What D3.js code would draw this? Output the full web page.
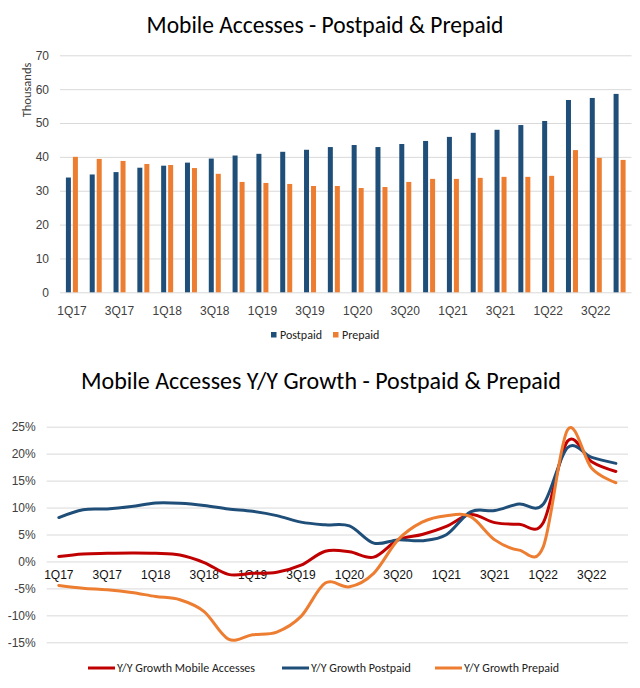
<!DOCTYPE html>
<html>
<head>
<meta charset="utf-8">
<script src="https://cdn.jsdelivr.net/npm/d3@7"></script>
<style>
  html, body { margin: 0; padding: 0; background: #fff; }
  svg { display: block; font-family: Carlito, Lato, "Open Sans", sans-serif; }
</style>
</head>
<body>
<svg id="chart" width="640" height="688"></svg>
<script>
// ---------- DATA ----------
const quarters = ["1Q17","2Q17","3Q17","4Q17","1Q18","2Q18","3Q18","4Q18","1Q19","2Q19","3Q19","4Q19",
                  "1Q20","2Q20","3Q20","4Q20","1Q21","2Q21","3Q21","4Q21","1Q22","2Q22","3Q22","4Q22"];
// thousands
const postpaid = [33.9,34.8,35.5,36.8,37.4,38.3,39.5,40.4,40.9,41.5,42.1,42.9,
                  43.5,42.9,43.8,44.7,45.9,47.1,48.0,49.4,50.6,56.8,57.4,58.6];
const prepaid  = [40.0,39.4,38.8,37.9,37.6,36.7,35.0,32.6,32.3,32.0,31.4,31.4,
                  30.8,31.1,32.6,33.5,33.5,33.8,34.1,34.1,34.4,42.0,39.7,39.1];
// Y/Y growth, percent
const growthTotal    = [0.9,1.4,1.5,1.55,1.5,1.2,-0.2,-2.4,-2.2,-2.0,-0.7,1.9,
                        1.8,0.8,4.0,5.0,6.5,8.7,7.2,6.9,7.2,22.3,18.5,16.7];
const growthPostpaid = [8.15,9.6,9.75,10.2,10.85,10.8,10.4,9.75,9.3,8.5,7.3,6.8,
                        6.6,3.4,4.0,3.85,4.95,9.2,9.45,10.65,10.6,21.1,19.3,18.2];
const growthPrepaid  = [-4.45,-4.95,-5.25,-5.75,-6.5,-7.1,-9.3,-14.4,-13.6,-13.1,-10.2,-4.0,
                        -4.7,-2.2,4.0,7.3,8.5,8.3,4.0,2.1,2.7,24.4,17.3,14.6];
const barTicks = [0,10,20,30,40,50,60,70];
const pctTicks = [-15,-10,-5,0,5,10,15,20,25];

const C_BLUE = "#1F4E79", C_ORANGE = "#ED7D31", C_RED = "#C00000";
const C_GRID = "#D9D9D9", C_TEXT = "#404040";
const FS = 12;

const svg = d3.select("#chart");

// ---------- TOP: bar chart ----------
const pTop = { left: 60, right: 631.5, top: 55.3, bottom: 292.3 };
const xb = d3.scaleBand().domain(quarters).range([pTop.left, pTop.right]);
const yb = d3.scaleLinear().domain([0, 70]).range([pTop.bottom, pTop.top]);

svg.append("text").attr("x", 325).attr("y", 33).attr("text-anchor", "middle")
  .attr("font-size", 23.5).attr("fill", "#000").text("Mobile Accesses - Postpaid & Prepaid");

const gyb = svg.append("g").attr("transform", `translate(${pTop.left},0)`)
  .call(d3.axisLeft(yb).tickValues(barTicks).tickSize(-(pTop.right - pTop.left)).tickPadding(11));
gyb.select(".domain").remove();
gyb.selectAll(".tick line").attr("stroke", C_GRID);
gyb.selectAll(".tick text").attr("font-size", FS).attr("fill", C_TEXT).attr("font-family", null);

svg.append("text").attr("transform", "translate(31,90) rotate(-90)").attr("text-anchor", "middle")
  .attr("font-size", 12.5).attr("fill", C_TEXT).text("Thousands");

const gxb = svg.append("g").attr("transform", `translate(0,${pTop.bottom})`)
  .call(d3.axisBottom(xb).tickValues(quarters.filter((d, i) => i % 2 === 0)).tickSize(0).tickPadding(14));
gxb.select(".domain").remove();
gxb.selectAll(".tick text").attr("font-size", FS).attr("fill", C_TEXT).attr("font-family", null);

const bw = 5;
svg.append("g").selectAll("rect").data(quarters).join("rect")
  .attr("x", d => xb(d) + xb.bandwidth() / 2 - 6).attr("width", bw)
  .attr("y", (d, i) => yb(postpaid[i])).attr("height", (d, i) => yb(0) - yb(postpaid[i]))
  .attr("fill", C_BLUE);
svg.append("g").selectAll("rect").data(quarters).join("rect")
  .attr("x", d => xb(d) + xb.bandwidth() / 2 + 1).attr("width", bw)
  .attr("y", (d, i) => yb(prepaid[i])).attr("height", (d, i) => yb(0) - yb(prepaid[i]))
  .attr("fill", C_ORANGE);

const legTop = [{ name: "Postpaid", color: C_BLUE, x: 271 }, { name: "Prepaid", color: C_ORANGE, x: 333 }];
const lt = svg.append("g").selectAll("g").data(legTop).join("g");
lt.append("rect").attr("x", d => d.x).attr("y", 332).attr("width", 5.5).attr("height", 5.5).attr("fill", d => d.color);
lt.append("text").attr("x", d => d.x + 9).attr("y", 339).attr("font-size", FS).attr("fill", "#222").text(d => d.name);

// ---------- BOTTOM: line chart ----------
const pBot = { left: 46.7, right: 628, top: 426.7, bottom: 642.3 };
const xl = d3.scaleBand().domain(quarters).range([pBot.left, pBot.right]);
const yl = d3.scaleLinear().domain([-15, 25]).range([pBot.bottom, pBot.top]);

svg.append("text").attr("x", 321).attr("y", 389).attr("text-anchor", "middle")
  .attr("font-size", 24).attr("fill", "#000").text("Mobile Accesses Y/Y Growth - Postpaid & Prepaid");

const gyl = svg.append("g").attr("transform", `translate(${pBot.left},0)`)
  .call(d3.axisLeft(yl).tickValues(pctTicks).tickFormat(d => d + "%").tickSize(-(pBot.right - pBot.left)).tickPadding(11));
gyl.select(".domain").remove();
gyl.selectAll(".tick line").attr("stroke", C_GRID);
gyl.selectAll(".tick text").attr("font-size", FS).attr("fill", C_TEXT).attr("font-family", null);

const gxl = svg.append("g").attr("transform", `translate(0,${yl(0)})`)
  .call(d3.axisBottom(xl).tickValues(quarters.filter((d, i) => i % 2 === 0)).tickSize(0).tickPadding(9));
gxl.select(".domain").remove();
gxl.selectAll(".tick text").attr("font-size", FS).attr("fill", "#111").attr("font-family", null);

const series = [
  { name: "Y/Y Growth Mobile Accesses", values: growthTotal, color: C_RED, lx: 88 },
  { name: "Y/Y Growth Postpaid", values: growthPostpaid, color: C_BLUE, lx: 282 },
  { name: "Y/Y Growth Prepaid", values: growthPrepaid, color: C_ORANGE, lx: 435 }
];
const line = d3.line()
  .x((d, i) => xl(quarters[i]) + xl.bandwidth() / 2)
  .y(d => yl(d))
  .curve(d3.curveCardinal.tension(0));
svg.append("g").selectAll("path").data(series).join("path")
  .attr("d", d => line(d.values)).attr("fill", "none")
  .attr("stroke", d => d.color).attr("stroke-width", 3).attr("stroke-linecap", "round");

const lb = svg.append("g").selectAll("g").data(series).join("g");
lb.append("line").attr("x1", d => d.lx).attr("x2", d => d.lx + 27).attr("y1", 668).attr("y2", 668)
  .attr("stroke", d => d.color).attr("stroke-width", 3);
lb.append("text").attr("x", d => d.lx + 29).attr("y", 672).attr("font-size", FS).attr("fill", "#222").text(d => d.name);
</script>
</body>
</html>
